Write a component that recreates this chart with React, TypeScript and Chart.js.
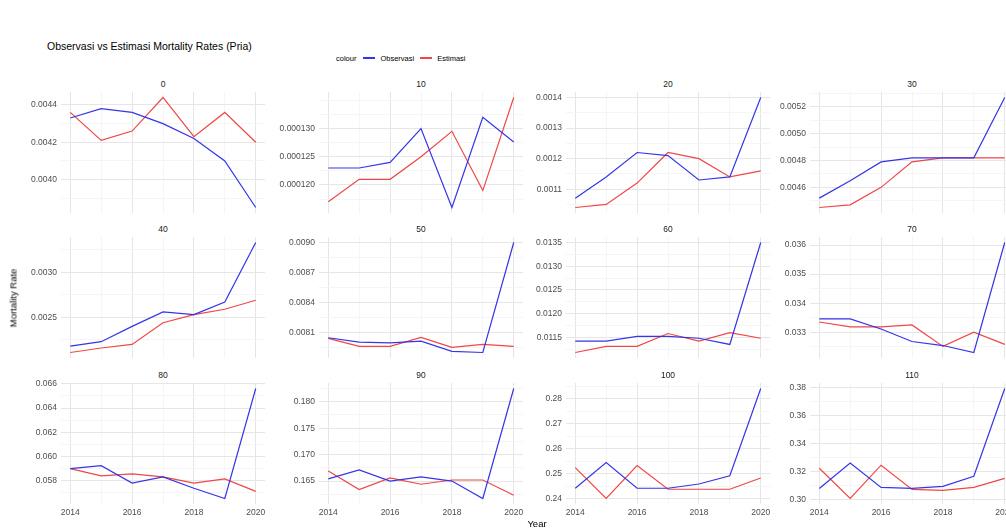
import React, { useEffect, useRef } from 'react';
import { Chart, registerables } from 'chart.js';

Chart.register(...registerables);

// Calendar years on the x axis of every facet
const years = [2014, 2015, 2016, 2017, 2018, 2019, 2020];

// Facet labels (age groups)
const ages = ['0', '10', '20', '30', '40', '50', '60', '70', '80', '90', '100', '110'];

// Observed and estimated male mortality rates per age group
const obs0 = [0.00433, 0.00438, 0.00436, 0.0043, 0.00422, 0.0041, 0.00385];
const est0 = [0.00436, 0.00421, 0.00426, 0.00444, 0.00423, 0.00436, 0.0042];
const obs10 = [0.000123, 0.000123, 0.000124, 0.00013, 0.000116, 0.000132, 0.0001276];
const est10 = [0.000117, 0.000121, 0.000121, 0.000125, 0.0001295, 0.000119, 0.0001355];
const obs20 = [0.00107, 0.00114, 0.00122, 0.00121, 0.00113, 0.00114, 0.0014];
const est20 = [0.00104, 0.00105, 0.00112, 0.00122, 0.0012, 0.00114, 0.00116];
const obs30 = [0.00452, 0.00465, 0.00479, 0.00482, 0.00482, 0.00482, 0.00527];
const est30 = [0.00445, 0.00447, 0.0046, 0.00479, 0.00482, 0.00482, 0.00482];
const obs40 = [0.00218, 0.00223, 0.0024, 0.00256, 0.00253, 0.00267, 0.00333];
const est40 = [0.00211, 0.00216, 0.0022, 0.00244, 0.00253, 0.00259, 0.00269];
const obs50 = [0.008046, 0.008001, 0.007995, 0.008011, 0.007909, 0.007898, 0.009];
const est50 = [0.00804, 0.00796, 0.00796, 0.00805, 0.00795, 0.00798, 0.00796];
const obs60 = [0.01142, 0.01142, 0.01152, 0.01152, 0.01148, 0.01135, 0.0135];
const est60 = [0.01118, 0.01131, 0.01131, 0.01158, 0.01142, 0.0116, 0.01148];
const obs70 = [0.03346, 0.03346, 0.03311, 0.03268, 0.03254, 0.0323, 0.03609];
const est70 = [0.03335, 0.03318, 0.03318, 0.03325, 0.03251, 0.033, 0.03258];
const obs80 = [0.05898, 0.05923, 0.05779, 0.0583, 0.05736, 0.05651, 0.06562];
const est80 = [0.05898, 0.05838, 0.05855, 0.0583, 0.05779, 0.05813, 0.0571];
const obs90 = [0.1654, 0.1671, 0.165, 0.1658, 0.165, 0.1617, 0.1825];
const est90 = [0.1669, 0.1634, 0.1656, 0.1644, 0.1652, 0.1652, 0.1623];
const obs100 = [0.2441, 0.2544, 0.2441, 0.2441, 0.2458, 0.2491, 0.2841];
const est100 = [0.2524, 0.24, 0.2532, 0.2437, 0.2437, 0.2437, 0.2482];
const obs110 = [0.3079, 0.326, 0.3086, 0.3079, 0.3094, 0.3166, 0.3793];
const est110 = [0.3223, 0.3007, 0.3245, 0.3072, 0.3065, 0.3086, 0.3151];

// Major y tick labels of each facet (free scales)
const ticks0 = ['0.0040', '0.0042', '0.0044'];
const ticks10 = ['0.000120', '0.000125', '0.000130'];
const ticks20 = ['0.0011', '0.0012', '0.0013', '0.0014'];
const ticks30 = ['0.0046', '0.0048', '0.0050', '0.0052'];
const ticks40 = ['0.0025', '0.0030'];
const ticks50 = ['0.0081', '0.0084', '0.0087', '0.0090'];
const ticks60 = ['0.0115', '0.0120', '0.0125', '0.0130', '0.0135'];
const ticks70 = ['0.033', '0.034', '0.035', '0.036'];
const ticks80 = ['0.056', '0.058', '0.060', '0.062', '0.064', '0.066'];
const ticks90 = ['0.165', '0.170', '0.175', '0.180'];
const ticks100 = ['0.24', '0.25', '0.26', '0.27', '0.28'];
const ticks110 = ['0.30', '0.32', '0.34', '0.36', '0.38'];

const xTickLabels = ['2014', '2016', '2018', '2020'];

const observedSeries = [obs0, obs10, obs20, obs30, obs40, obs50, obs60, obs70, obs80, obs90, obs100, obs110];
const estimatedSeries = [est0, est10, est20, est30, est40, est50, est60, est70, est80, est90, est100, est110];
const tickSets = [ticks0, ticks10, ticks20, ticks30, ticks40, ticks50, ticks60, ticks70, ticks80, ticks90, ticks100, ticks110];

const BLUE = '#3535e8';
const RED = '#ef4646';
const GRID_MAJOR = '#e6e6e6';
const GRID_MINOR = '#f2f2f2';
const FONT = '"Liberation Sans", Arial, Helvetica, sans-serif';
const TICK_COLOR = '#4d4d4d';

// Facet geometry (page pixels)
const COL_LEFT = [61, 319, 566, 810];
const ROW_TOP = [92, 237, 383];
const PLOT_W = 204;
const PLOT_H = 121;
const Y_AXIS_W = 58;
const X_AXIS_H = 20;
const EDGE = 8; // room above/below the plot area for edge tick labels

type PanelProps = { index: number };

function Panel({ index }: PanelProps) {
  const ref = useRef<HTMLCanvasElement | null>(null);
  const row = Math.floor(index / 4);
  const col = index % 4;
  const bottom = row === 2;

  useEffect(() => {
    const canvas = ref.current;
    if (!canvas) return;
    const obs = observedSeries[index];
    const est = estimatedSeries[index];
    const labels = tickSets[index];
    const majors = labels.map((s) => parseFloat(s));
    const all = obs.concat(est);
    const lo = Math.min(...all);
    const hi = Math.max(...all);
    const pad = (hi - lo) * 0.05;
    const yMin = lo - pad;
    const yMax = hi + pad;
    const step = majors.length > 1 ? majors[1] - majors[0] : (yMax - yMin) / 2;
    const eps = step * 1e-6;
    const yTicks: number[] = [];
    const first = majors[0] - Math.ceil((majors[0] - yMin) / step) * step;
    for (let k = 0; k < 60; k++) {
      const mj = first + k * step;
      const mn = mj + step / 2;
      if (mj > yMax + eps) break;
      if (mj >= yMin - eps) yTicks.push(mj);
      if (mn >= yMin - eps && mn <= yMax + eps) yTicks.push(mn);
    }
    const labelFor = (v: number) => {
      for (let i = 0; i < majors.length; i++) {
        if (Math.abs(majors[i] - v) < step * 0.01) return labels[i];
      }
      return '';
    };
    const noPad = (s: any) => {
      s.paddingTop = 0;
      s.paddingBottom = 0;
      s.paddingLeft = 0;
      s.paddingRight = 0;
    };

    const chart = new Chart(canvas, {
      type: 'line',
      data: {
        datasets: [
          {
            label: 'Observasi',
            data: years.map((y, i) => ({ x: y, y: obs[i] })),
            borderColor: BLUE,
            borderWidth: 1.2,
            pointRadius: 0,
            tension: 0,
            fill: false,
          },
          {
            label: 'Estimasi',
            data: years.map((y, i) => ({ x: y, y: est[i] })),
            borderColor: RED,
            borderWidth: 1.2,
            pointRadius: 0,
            tension: 0,
            fill: false,
          },
        ],
      },
      options: {
        animation: false,
        responsive: false,
        maintainAspectRatio: false,
        layout: { padding: { top: EDGE, bottom: bottom ? 0 : EDGE, left: 0, right: 0 } },
        plugins: { legend: { display: false }, tooltip: { enabled: false } },
        scales: {
          x: {
            type: 'linear',
            min: 2013.7,
            max: 2020.3,
            afterBuildTicks: (s: any) => {
              s.ticks = years.map((v) => ({ value: v }));
            },
            afterFit: (s: any) => {
              s.height = bottom ? X_AXIS_H : 0;
              noPad(s);
            },
            border: { display: false },
            grid: {
              drawTicks: false,
              color: (ctx: any) => (ctx.tick && xTickLabels.includes(String(ctx.tick.value)) ? GRID_MAJOR : GRID_MINOR),
              lineWidth: (ctx: any) => (ctx.tick && xTickLabels.includes(String(ctx.tick.value)) ? 1 : 0.8),
            },
            ticks: {
              display: bottom,
              autoSkip: false,
              maxRotation: 0,
              padding: 4,
              color: TICK_COLOR,
              font: { family: FONT, size: 8.5 },
              callback: (v: any) => (xTickLabels.includes(String(v)) ? String(v) : ''),
            },
          },
          y: {
            type: 'linear',
            min: yMin,
            max: yMax,
            afterBuildTicks: (s: any) => {
              s.ticks = yTicks.map((v) => ({ value: v }));
            },
            afterFit: (s: any) => {
              s.width = Y_AXIS_W;
              noPad(s);
            },
            border: { display: false },
            grid: {
              drawTicks: false,
              color: (ctx: any) => (labelFor(ctx.tick ? ctx.tick.value : NaN) ? GRID_MAJOR : GRID_MINOR),
              lineWidth: (ctx: any) => (labelFor(ctx.tick ? ctx.tick.value : NaN) ? 1 : 0.8),
            },
            ticks: {
              autoSkip: false,
              padding: 4,
              color: TICK_COLOR,
              font: { family: FONT, size: 8.5 },
              callback: (v: any) => labelFor(Number(v)),
            },
          },
        },
      },
    } as any);
    return () => chart.destroy();
  }, [index, bottom]);

  const left = COL_LEFT[col] - Y_AXIS_W;
  const top = ROW_TOP[row] - EDGE;
  const w = Y_AXIS_W + PLOT_W;
  const h = EDGE + PLOT_H + (bottom ? X_AXIS_H : EDGE);

  return (
    <>
      <div
        style={{
          position: 'absolute',
          left: COL_LEFT[col],
          width: PLOT_W,
          top: ROW_TOP[row] - 14,
          height: 12,
          textAlign: 'center',
          font: `8.5px ${FONT}`,
          lineHeight: '12px',
          color: '#1a1a1a',
        }}
      >
        {ages[index]}
      </div>
      <canvas
        ref={ref}
        width={w}
        height={h}
        style={{ position: 'absolute', left, top, width: w, height: h }}
      />
    </>
  );
}

export default function App() {
  return (
    <div
      style={{
        position: 'fixed',
        left: 0,
        top: 0,
        width: 1006,
        height: 530,
        overflow: 'hidden',
        background: '#ffffff',
        fontFamily: FONT,
      }}
    >
      <div style={{ position: 'absolute', left: 47, top: 40, font: `10.5px ${FONT}`, color: '#000', whiteSpace: 'nowrap' }}>
        Observasi vs Estimasi Mortality Rates (Pria)
      </div>

      <div
        style={{
          position: 'absolute',
          left: 336,
          top: 52,
          height: 12,
          display: 'flex',
          alignItems: 'center',
          font: `7.5px ${FONT}`,
          color: '#000',
          whiteSpace: 'nowrap',
        }}
      >
        <span style={{ marginRight: 7 }}>colour</span>
        <span style={{ display: 'inline-block', width: 12, height: 1.2, background: BLUE, marginRight: 5 }} />
        <span style={{ marginRight: 6 }}>Observasi</span>
        <span style={{ display: 'inline-block', width: 12, height: 1.2, background: RED, marginRight: 5 }} />
        <span>Estimasi</span>
      </div>

      {ages.map((_, i) => (
        <Panel key={i} index={i} />
      ))}

      <div style={{ position: 'absolute', left: 487, width: 100, top: 518, textAlign: 'center', font: `9.5px ${FONT}`, color: '#000' }}>
        Year
      </div>
      <div
        style={{
          position: 'absolute',
          left: 13,
          top: 298,
          transform: 'translate(-50%, -50%) rotate(-90deg)',
          font: `9.5px ${FONT}`,
          color: '#000',
          whiteSpace: 'nowrap',
        }}
      >
        Mortality Rate
      </div>
    </div>
  );
}
